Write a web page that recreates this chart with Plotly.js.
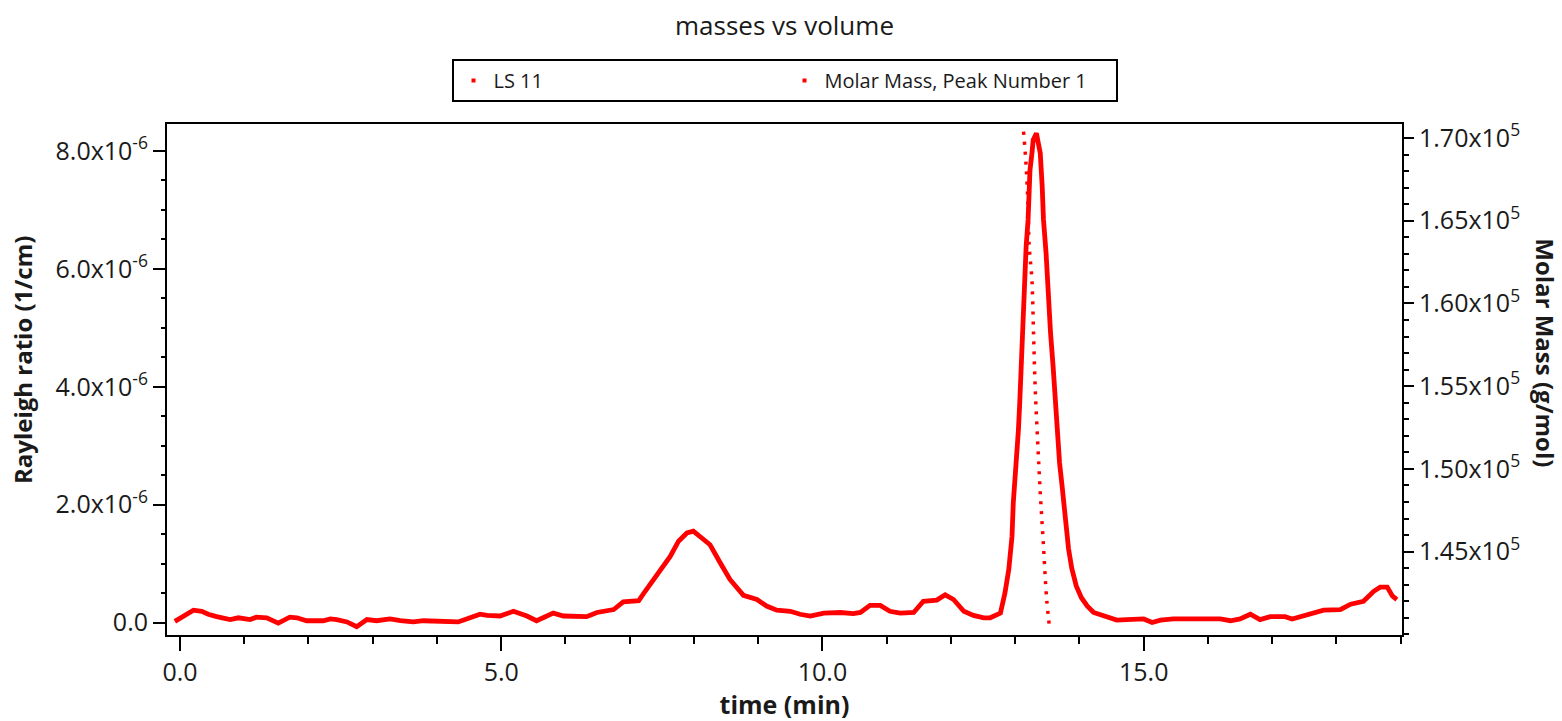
<!DOCTYPE html>
<html>
<head>
<meta charset="utf-8">
<script src="https://cdn.plot.ly/plotly-3.0.1.min.js"></script>
<style>html,body{margin:0;padding:0;background:#fff;}#chart{width:1562px;height:721px;}</style>
</head>
<body>
<div id="chart"></div>
<script>
// LS 11 Rayleigh ratio (units of 1e-6 1/cm) vs time (min)
const lsTime = [-0.08,0.05,0.21,0.34,0.44,0.57,0.78,0.91,1.09,1.19,1.35,1.53,1.71,1.82,1.97,2.23,2.34,2.44,2.60,2.75,2.91,3.06,3.27,3.43,3.63,3.79,4.05,4.26,4.33,4.46,4.67,4.78,4.98,5.19,5.40,5.55,5.66,5.81,5.97,6.12,6.33,6.49,6.64,6.75,6.90,7.14,7.24,7.37,7.50,7.63,7.76,7.89,7.99,8.10,8.25,8.41,8.56,8.77,8.98,9.13,9.29,9.50,9.65,9.81,10.02,10.28,10.48,10.59,10.74,10.90,11.05,11.21,11.42,11.57,11.78,11.91,12.04,12.20,12.35,12.51,12.61,12.77,12.84,12.90,12.92,12.95,12.97,13.00,13.03,13.05,13.07,13.09,13.10,13.12,13.13,13.15,13.17,13.20,13.23,13.26,13.28,13.33,13.39,13.42,13.44,13.48,13.50,13.52,13.55,13.59,13.62,13.65,13.69,13.73,13.78,13.83,13.88,13.95,14.03,14.12,14.22,14.43,14.58,14.74,15.00,15.13,15.26,15.46,15.88,16.19,16.35,16.50,16.66,16.81,16.97,17.20,17.31,17.44,17.64,17.80,18.06,18.22,18.42,18.58,18.68,18.79,18.87,18.94];
const lsRayleighMicro = [0.02,0.11,0.21,0.19,0.14,0.10,0.05,0.08,0.05,0.09,0.08,-0.01,0.09,0.08,0.03,0.03,0.06,0.05,0.01,-0.07,0.05,0.03,0.06,0.03,0.01,0.03,0.03,0.03,0.01,0.06,0.14,0.12,0.11,0.19,0.11,0.03,0.08,0.16,0.11,0.11,0.10,0.17,0.20,0.22,0.35,0.37,0.53,0.73,0.95,1.12,1.38,1.52,1.55,1.46,1.32,1.01,0.73,0.46,0.39,0.28,0.21,0.19,0.14,0.11,0.16,0.17,0.15,0.17,0.29,0.29,0.19,0.16,0.17,0.36,0.38,0.47,0.39,0.19,0.12,0.08,0.08,0.16,0.50,0.90,1.18,1.46,2.03,2.42,2.88,3.27,3.72,4.29,4.68,5.14,5.59,5.98,6.38,6.83,7.68,7.96,8.19,8.30,7.96,7.40,6.83,6.27,5.81,5.36,4.91,4.34,3.84,3.27,2.71,2.31,1.75,1.25,0.92,0.62,0.42,0.28,0.17,0.10,0.04,0.05,0.06,0.00,0.04,0.06,0.06,0.06,0.03,0.06,0.14,0.05,0.10,0.10,0.06,0.10,0.15,0.21,0.22,0.31,0.36,0.53,0.60,0.60,0.45,0.39];

// Molar Mass, Peak Number 1 (g/mol) vs time (min)
const mmTime = [13.13,13.167,13.198,13.218,13.26,13.285,13.31,13.348,13.39,13.44,13.49,13.535];
const mmMolarMass = [170380,168470,166060,163440,161425,158220,154980,151760,148540,145320,142100,140390];

// Tick labels
const leftTickVals = [0, 2e-6, 4e-6, 6e-6, 8e-6];
const leftTickText = ['0.0','2.0x10<sup>-6</sup>','4.0x10<sup>-6</sup>','6.0x10<sup>-6</sup>','8.0x10<sup>-6</sup>'];
const rightTickVals = [145000,150000,155000,160000,165000,170000];
const rightTickText = ['1.45x10<sup>5</sup>','1.50x10<sup>5</sup>','1.55x10<sup>5</sup>','1.60x10<sup>5</sup>','1.65x10<sup>5</sup>','1.70x10<sup>5</sup>'];

const RED = '#ff0000';
const FONT = 'Open Sans, Noto Sans, sans-serif';
const TXT = '#1a1a1a';

const traces = [
  {
    x: lsTime, y: lsRayleighMicro.map(v => v * 1e-6),
    type: 'scatter', mode: 'lines', name: 'LS 11',
    line: {color: RED, width: 4.8}, legendgroup: 'ls', showlegend: false,
    yaxis: 'y'
  },
  {
    x: mmTime, y: mmMolarMass,
    type: 'scatter', mode: 'lines', name: 'Molar Mass, Peak Number 1',
    line: {color: RED, width: 3.5, dash: '3px,7px', shape: 'spline'},
    legendgroup: 'mm', showlegend: false,
    yaxis: 'y2'
  },
  {
    x: [null], y: [null], type: 'scatter', mode: 'markers', name: 'LS 11',
    marker: {color: RED, size: 4, symbol: 'square'}, legendgroup: 'ls', yaxis: 'y'
  },
  {
    x: [null], y: [null], type: 'scatter', mode: 'markers', name: 'Molar Mass, Peak Number 1',
    marker: {color: RED, size: 4, symbol: 'square'}, legendgroup: 'mm', yaxis: 'y2'
  }
];

const axisCommon = {
  showgrid: false, zeroline: false, showline: true, linewidth: 2, linecolor: '#000',
  ticks: 'outside', tickwidth: 2, tickcolor: '#000',
  tickfont: {family: FONT, size: 25, color: TXT}
};

const layout = {
  width: 1562, height: 721,
  margin: {l: 167, r: 160, t: 124, b: 86},
  paper_bgcolor: '#fff', plot_bgcolor: '#fff',
  font: {family: FONT, color: TXT},
  title: {text: 'masses vs volume', x: 0.5, xref: 'paper', xanchor: 'center',
          y: 0.964, yref: 'container', yanchor: 'middle',
          font: {family: FONT, size: 26, color: TXT}},
  showlegend: true,
  legend: {
    orientation: 'h', x: 0.5, xanchor: 'center', y: 1.127, yanchor: 'top',
    bordercolor: '#000', borderwidth: 2, bgcolor: '#fff',
    font: {family: FONT, size: 20, color: TXT},
    entrywidth: 286, entrywidthmode: 'pixels', traceorder: 'normal'
  },
  xaxis: Object.assign({}, axisCommon, {
    range: [-0.202, 19.02], tick0: 0, dtick: 5, tickformat: '.1f', ticklen: 14, mirror: true,
    minor: {tick0: 0, dtick: 1, ticks: 'outside', ticklen: 7, tickwidth: 2, tickcolor: '#000'},
    title: {text: '<b>time (min)</b>', font: {family: FONT, size: 25, color: TXT}, standoff: 6}
  }),
  yaxis: Object.assign({}, axisCommon, {
    range: [-0.212e-6, 8.458e-6], tickmode: 'array', tickvals: leftTickVals, ticktext: leftTickText, ticklen: 12,
    minor: {tickmode: 'linear', tick0: 0, dtick: 0.5e-6, ticks: 'outside', ticklen: 4, tickwidth: 2, tickcolor: '#000'}
  }),
  yaxis2: Object.assign({}, axisCommon, {
    overlaying: 'y', side: 'right', anchor: 'x',
    range: [139958, 170845], tickmode: 'array', tickvals: rightTickVals, ticktext: rightTickText, ticklen: 10,
    minor: {tickmode: 'linear', tick0: 140000, dtick: 1000, ticks: 'outside', ticklen: 5, tickwidth: 2, tickcolor: '#000'}
  }),
  annotations: [
    {
      text: '<b>Rayleigh ratio (1/cm)</b>', textangle: -90, showarrow: false,
      xref: 'paper', yref: 'paper', x: -0.1174, y: 0.538, xanchor: 'center', yanchor: 'middle',
      font: {family: FONT, size: 24, color: TXT}
    },
    {
      text: '<b>Molar Mass (g/mol)</b>', textangle: 90, showarrow: false,
      xref: 'paper', yref: 'paper', x: 1.1155, y: 0.552, xanchor: 'center', yanchor: 'middle',
      font: {family: FONT, size: 24, color: TXT}
    }
  ]
};

Plotly.newPlot('chart', traces, layout, {displayModeBar: false, staticPlot: true});
</script>
</body>
</html>
